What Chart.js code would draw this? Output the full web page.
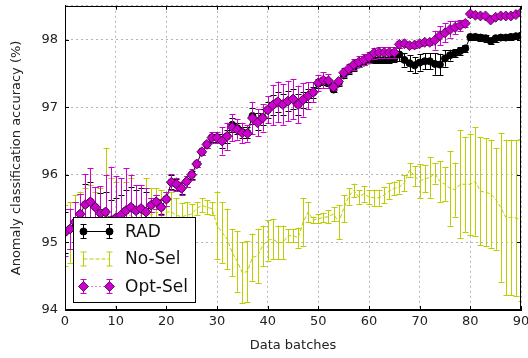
<!DOCTYPE html>
<html>
<head>
<meta charset="utf-8">
<script src="https://cdn.jsdelivr.net/npm/chart.js@4.4.1/dist/chart.umd.min.js"></script>
<style>
  html, body { margin: 0; padding: 0; background: #fff; }
</style>
</head>
<body>
<canvas id="accChart" width="528" height="358"></canvas>
<script>
// data batches 0..90
const batches = Array.from({ length: 91 }, (_, i) => i);

const radAcc = [
  95.15, 95.2, 95.3, 95.42, 95.56, 95.6, 95.52, 95.43, 95.45, 95.32,
  95.36, 95.4, 95.47, 95.52, 95.47, 95.5, 95.45, 95.55, 95.6, 95.52,
  95.64, 95.89, 95.86, 95.8, 95.9, 96.0, 96.16, 96.34, 96.45, 96.55,
  96.55, 96.5, 96.57, 96.74, 96.69, 96.63, 96.62, 96.87, 96.79, 96.85,
  96.96, 97.03, 97.08, 97.04, 97.09, 97.12, 97.04, 97.11, 97.17, 97.22,
  97.35, 97.39, 97.37, 97.26, 97.35, 97.47, 97.53, 97.58, 97.63, 97.66,
  97.69, 97.7, 97.7, 97.7, 97.7, 97.72, 97.78, 97.7, 97.65, 97.62,
  97.66, 97.68, 97.68, 97.64, 97.63, 97.72, 97.77, 97.8, 97.83, 97.87,
  98.04, 98.04, 98.03, 98.02, 97.98, 98.02, 98.03, 98.03, 98.04, 98.05,
  98.06
];
const radErr = [
  0.3, 0.3, 0.3, 0.3, 0.3, 0.3, 0.3, 0.3, 0.3, 0.3,
  0.3, 0.3, 0.3, 0.3, 0.3, 0.3, 0.3, 0.1, 0.1, 0.1,
  0.1, 0.1, 0.08, 0.08, 0.08, 0.06, 0.05, 0.05, 0.05, 0.06,
  0.06, 0.1, 0.1, 0.1, 0.08, 0.08, 0.08, 0.12, 0.12, 0.12,
  0.12, 0.15, 0.15, 0.15, 0.15, 0.15, 0.15, 0.12, 0.1, 0.08,
  0.06, 0.06, 0.05, 0.04, 0.04, 0.04, 0.04, 0.04, 0.04, 0.04,
  0.04, 0.04, 0.04, 0.04, 0.04, 0.05, 0.1, 0.1, 0.12, 0.12,
  0.12, 0.12, 0.12, 0.16, 0.16, 0.12, 0.08, 0.06, 0.06, 0.05,
  0.05, 0.05, 0.05, 0.05, 0.05, 0.05, 0.04, 0.04, 0.04, 0.04,
  0.04
];

const noSelAcc = [
  95.1, 95.15, 95.2, 95.25, 95.3, 95.35, 95.3, 95.3, 95.4, 95.35,
  95.3, 95.35, 95.4, 95.4, 95.35, 95.4, 95.45, 95.4, 95.45, 95.42,
  95.45, 95.45, 95.4, 95.38, 95.4, 95.42, 95.5, 95.55, 95.52, 95.5,
  95.25, 95.15, 95.05, 94.85, 94.72, 94.55, 94.57, 94.78, 94.8, 94.95,
  95.03, 95.05, 95.0, 95.0, 95.1, 95.1, 95.07, 95.3, 95.45, 95.33,
  95.35, 95.37, 95.38, 95.42, 95.3, 95.5, 95.68, 95.77, 95.67, 95.72,
  95.67, 95.66, 95.66, 95.7, 95.76, 95.8, 95.82, 95.88, 96.07, 95.98,
  95.91, 95.94, 95.96, 96.02, 95.9, 95.86, 95.8, 95.78, 95.86, 95.86,
  95.86, 95.9, 95.76, 95.74, 95.72, 95.64, 95.52, 95.37, 95.37, 95.36,
  95.33
];
const noSelErr = [
  0.45, 0.45, 0.5, 0.5, 0.5, 0.5, 0.45, 0.5, 1.0, 0.6,
  0.6, 0.6, 0.5, 0.55, 0.5, 0.45, 0.5, 0.4, 0.35, 0.35,
  0.3, 0.3, 0.25, 0.2, 0.2, 0.15, 0.1, 0.1, 0.1, 0.1,
  0.5, 0.45, 0.45, 0.35, 0.45, 0.45, 0.45, 0.35, 0.4, 0.3,
  0.3, 0.3, 0.25, 0.25, 0.1, 0.1, 0.15, 0.35, 0.15, 0.05,
  0.07, 0.07, 0.1, 0.1, 0.25, 0.2, 0.12, 0.1, 0.1, 0.12,
  0.1, 0.12, 0.12, 0.12, 0.12, 0.1, 0.1, 0.12, 0.1, 0.15,
  0.25, 0.2, 0.3, 0.15, 0.3, 0.25, 0.55, 0.4, 0.8, 0.7,
  0.75, 0.8, 0.8, 0.8, 0.8, 0.75, 1.1, 1.15, 1.15, 1.15,
  1.2
];

const optSelAcc = [
  95.15, 95.2, 95.3, 95.42, 95.56, 95.6, 95.52, 95.43, 95.45, 95.32,
  95.36, 95.4, 95.47, 95.52, 95.47, 95.5, 95.45, 95.55, 95.6, 95.52,
  95.64, 95.89, 95.86, 95.8, 95.9, 96.0, 96.16, 96.34, 96.45, 96.55,
  96.55, 96.5, 96.57, 96.7, 96.67, 96.62, 96.61, 96.84, 96.77, 96.84,
  96.96, 97.03, 97.08, 97.04, 97.09, 97.12, 97.04, 97.11, 97.17, 97.22,
  97.36, 97.4, 97.39, 97.3, 97.38, 97.51, 97.57, 97.63, 97.67, 97.7,
  97.74, 97.8, 97.81, 97.81, 97.81, 97.81, 97.93, 97.94, 97.91, 97.92,
  97.94, 97.96, 97.96, 97.99, 98.06, 98.1, 98.15, 98.18, 98.21, 98.24,
  98.38, 98.36, 98.35, 98.35, 98.29, 98.33, 98.35, 98.35, 98.35, 98.37,
  98.4
];
const optSelErr = [
  0.35, 0.3, 0.3, 0.3, 0.45, 0.5, 0.3, 0.4, 0.55, 0.8,
  0.62, 0.55, 0.63, 0.48, 0.38, 0.35, 0.35, 0.1, 0.1, 0.12,
  0.1, 0.12, 0.1, 0.1, 0.08, 0.08, 0.05, 0.05, 0.05, 0.08,
  0.08, 0.2, 0.2, 0.2, 0.15, 0.15, 0.12, 0.24, 0.2, 0.2,
  0.2, 0.3, 0.3, 0.3, 0.3, 0.3, 0.28, 0.25, 0.2, 0.15,
  0.12, 0.12, 0.1, 0.05, 0.05, 0.07, 0.07, 0.08, 0.08, 0.08,
  0.08, 0.08, 0.08, 0.08, 0.08, 0.08, 0.05, 0.04, 0.04, 0.04,
  0.04, 0.04, 0.04, 0.14, 0.14, 0.14, 0.12, 0.1, 0.08, 0.05,
  0.04, 0.02, 0.02, 0.02, 0.02, 0.02, 0.02, 0.02, 0.02, 0.02,
  0.02
];

const yTicks = [94, 95, 96, 97, 98];
const xTicks = [0, 10, 20, 30, 40, 50, 60, 70, 80, 90];

const FONT = "'DejaVu Sans', sans-serif";

const toPoints = vals => batches.map((b, i) => ({ x: b, y: vals[i] }));

// vertical error bars, drawn just under each dataset's own line/markers
const errorBars = {
  id: "errorBars",
  beforeDatasetDraw(chart, args) {
    const ds = chart.data.datasets[args.index];
    if (!ds.errors) return;
    const { ctx, chartArea, scales: { x, y } } = chart;
    ctx.save();
    ctx.beginPath();
    ctx.rect(chartArea.left, chartArea.top, chartArea.right - chartArea.left, chartArea.bottom - chartArea.top);
    ctx.clip();
    ctx.strokeStyle = ds.errColor;
    ctx.lineWidth = 1;
    ds.data.forEach((p, i) => {
      const e = ds.errors[i];
      const px = Math.round(x.getPixelForValue(p.x)) + 0.5;
      const top = y.getPixelForValue(p.y + e);
      const bot = y.getPixelForValue(p.y - e);
      ctx.beginPath();
      ctx.moveTo(px, top);
      ctx.lineTo(px, bot);
      ctx.moveTo(px - 3, Math.round(top) + 0.5);
      ctx.lineTo(px + 3, Math.round(top) + 0.5);
      ctx.moveTo(px - 3, Math.round(bot) + 0.5);
      ctx.lineTo(px + 3, Math.round(bot) + 0.5);
      ctx.stroke();
    });
    ctx.restore();
  }
};

// full box frame, inward tick marks and the boxed legend
const frameAndLegend = {
  id: "frameAndLegend",
  afterDraw(chart) {
    const { ctx, chartArea: a, scales: { x, y } } = chart;
    ctx.save();
    ctx.strokeStyle = "#000";
    ctx.lineWidth = 1;
    ctx.strokeRect(Math.round(a.left) + 0.5, Math.round(a.top) + 0.5,
      Math.round(a.right - a.left) - 1, Math.round(a.bottom - a.top) - 1);

    ctx.beginPath();
    yTicks.forEach(v => {
      const py = Math.round(y.getPixelForValue(v)) + 0.5;
      ctx.moveTo(a.left, py); ctx.lineTo(a.left + 4, py);
      ctx.moveTo(a.right, py); ctx.lineTo(a.right - 4, py);
    });
    xTicks.forEach(v => {
      const px = Math.round(x.getPixelForValue(v)) + 0.5;
      ctx.moveTo(px, a.bottom); ctx.lineTo(px, a.bottom - 4);
      ctx.moveTo(px, a.top); ctx.lineTo(px, a.top + 4);
    });
    ctx.stroke();

    // legend box
    const bx = 73.5, by = 217.5, bw = 122, bh = 85;
    ctx.fillStyle = "#fff";
    ctx.fillRect(bx, by, bw, bh);
    ctx.strokeRect(bx, by, bw, bh);

    [0, 1, 2].forEach(row => {
      const ds = chart.data.datasets.find(d => d.legendRow === row);
      const ly = 231.5 + row * 27.5;
      const x1 = 83.5, x2 = 109.5;
      ctx.save();
      ctx.strokeStyle = ds.borderColor;
      ctx.lineWidth = 1;
      ctx.setLineDash(ds.borderDash || []);
      ctx.beginPath();
      ctx.moveTo(x1, ly); ctx.lineTo(x2, ly);
      ctx.stroke();
      ctx.setLineDash([]);
      ctx.strokeStyle = ds.errColor;
      [x1, x2].forEach(mx => {
        ctx.beginPath();
        ctx.moveTo(mx, ly - 7); ctx.lineTo(mx, ly + 7);
        ctx.moveTo(mx - 3, ly - 7); ctx.lineTo(mx + 3, ly - 7);
        ctx.moveTo(mx - 3, ly + 7); ctx.lineTo(mx + 3, ly + 7);
        ctx.stroke();
      });
      if (ds.pointRadius > 0) {
        ctx.fillStyle = ds.pointBackgroundColor;
        ctx.strokeStyle = ds.pointBorderColor;
        ctx.lineWidth = ds.pointBorderWidth;
        [x1, x2].forEach(mx => {
          Chart.helpers.drawPoint(ctx, {
            pointStyle: ds.pointStyle,
            radius: ds.pointRadius,
            borderWidth: ds.pointBorderWidth
          }, mx, ly);
        });
      }
      ctx.fillStyle = "#111";
      ctx.font = "17px " + FONT;
      ctx.textBaseline = "middle";
      ctx.textAlign = "left";
      ctx.fillText(ds.label, 125, ly + 1);
      ctx.restore();
    });
    ctx.restore();
  }
};

new Chart(document.getElementById("accChart"), {
  type: "line",
  data: {
    datasets: [
      {
        label: "Opt-Sel",
        legendRow: 2,
        order: 1,
        data: toPoints(optSelAcc),
        errors: optSelErr,
        errColor: "#d000d0",
        borderColor: "#c000c0",
        borderWidth: 1,
        borderDash: [1, 3],
        pointStyle: "rectRot",
        pointRadius: 5,
        pointBackgroundColor: "#cc00cc",
        pointBorderColor: "#3a003a",
        pointBorderWidth: 0.8,
        fill: false
      },
      {
        label: "No-Sel",
        legendRow: 1,
        order: 2,
        data: toPoints(noSelAcc),
        errors: noSelErr,
        errColor: "#bccd00",
        borderColor: "#bccd00",
        borderWidth: 1,
        borderDash: [4, 2],
        pointRadius: 0,
        fill: false
      },
      {
        label: "RAD",
        legendRow: 0,
        order: 3,
        data: toPoints(radAcc),
        errors: radErr,
        errColor: "#000",
        borderColor: "#000",
        borderWidth: 1,
        pointStyle: "circle",
        pointRadius: 3.5,
        pointBackgroundColor: "#000",
        pointBorderColor: "#000",
        pointBorderWidth: 1,
        fill: false
      }
    ]
  },
  options: {
    responsive: false,
    animation: false,
    devicePixelRatio: 1,
    layout: { padding: { top: 4, right: 7, left: 0, bottom: 0 } },
    plugins: {
      legend: { display: false },
      tooltip: { enabled: false }
    },
    scales: {
      x: {
        type: "linear",
        min: 0,
        max: 90,
        afterFit: scale => {
          scale.height = 48;
          scale.paddingLeft = 0;
          scale.paddingRight = 0;
        },
        ticks: {
          stepSize: 10,
          padding: 4,
          color: "#222",
          font: { family: FONT, size: 13 }
        },
        grid: { color: "#b5b5b5", drawTicks: false },
        border: { color: "#000", dash: [2, 3] },
        title: {
          display: true,
          text: "Data batches",
          color: "#222",
          font: { family: FONT, size: 13 },
          padding: { top: 0, bottom: 5 }
        }
      },
      y: {
        min: 94,
        max: 98.5,
        afterFit: scale => {
          scale.width = 65;
          scale.paddingTop = 0;
          scale.paddingBottom = 0;
        },
        ticks: {
          stepSize: 1,
          padding: 7,
          color: "#222",
          font: { family: FONT, size: 13 },
          callback: v => (Number.isInteger(v) ? v : "")
        },
        grid: { color: "#b5b5b5", drawTicks: false },
        border: { color: "#000", dash: [2, 3] },
        title: {
          display: true,
          text: "Anomaly classification accuracy (%)",
          color: "#222",
          font: { family: FONT, size: 13 },
          padding: { top: 9, bottom: 0 }
        }
      }
    }
  },
  plugins: [errorBars, frameAndLegend]
});
</script>
</body>
</html>
